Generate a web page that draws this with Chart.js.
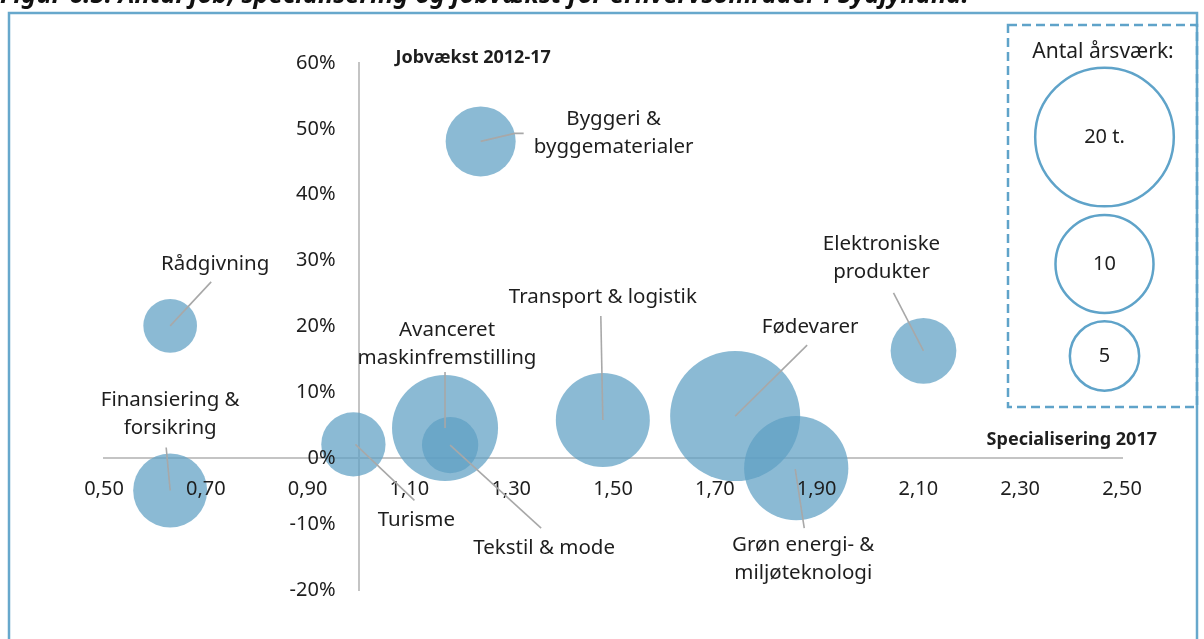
<!DOCTYPE html>
<html lang="da">
<head>
<meta charset="utf-8">
<title>Antal job, specialisering og jobvækst</title>
<script src="https://cdn.jsdelivr.net/npm/chart.js@4"></script>
<style>
  html, body { margin: 0; padding: 0; background: #fff; }
  #wrap { position: relative; width: 1204px; height: 639px; overflow: hidden; }
</style>
</head>
<body>
<div id="wrap"><canvas id="chart"></canvas></div>
<script>
// Erhvervsområder
const omraader = [
	["Rådgivning"],
	["Finansiering &", "forsikring"],
	["Byggeri &", "byggematerialer"],
	["Turisme"],
	["Avanceret", "maskinfremstilling"],
	["Tekstil & mode"],
	["Transport & logistik"],
	["Fødevarer"],
	["Grøn energi- &", "miljøteknologi"],
	["Elektroniske", "produkter"]
];
// Specialisering 2017 (x)
const specialisering = [0.63, 0.63, 1.24, 0.99, 1.17, 1.18, 1.48, 1.74, 1.86, 2.11];
// Jobvækst 2012-17, procent (y)
const jobvaekst = [20.1, -4.9, 48.1, 2.1, 4.6, 2.0, 5.8, 6.4, -1.5, 16.3];
// Antal årsværk, tusinde (bobbelstørrelse)
const aarsvaerk = [3.0, 5.7, 5.1, 4.3, 11.7, 3.3, 9.2, 17.6, 11.3, 4.5];

const xTicks = [0.5, 0.7, 0.9, 1.1, 1.3, 1.5, 1.7, 1.9, 2.1, 2.3, 2.5];
const yTicks = [-20, -10, 0, 10, 20, 30, 40, 50, 60];
const legendValues = [20, 10, 5];
const legendLabels = ["20 t.", "10", "5"];

// label placement, pixel offsets from bubble centre: text block centre + leader line
const labelLayout = [
	{ dx: 45, dy: -62, line: [[0, 0], [41, -44]] },
	{ dx: 0, dy: -76, line: [[-4, -43], [0, 0]] },
	{ dx: 133, dy: -8, line: [[0, 0], [34, -8], [43, -8]] },
	{ dx: 63, dy: 76, line: [[2, 0], [61, 56]] },
	{ dx: 2, dy: -84, line: [[0, 0], [0, -56]] },
	{ dx: 94, dy: 103, line: [[0, 0], [91, 83]] },
	{ dx: 0, dy: -123, line: [[0, 0], [-2, -104]] },
	{ dx: 75, dy: -89, line: [[0, 0], [72, -71]] },
	{ dx: 7, dy: 91, line: [[-1, 1], [8, 60]] },
	{ dx: -42, dy: -93, line: [[-30, -58], [0, 0]] }
];

const FONT = '"Noto Sans", "Open Sans", sans-serif';
const TEXT = "#1e1e1e";

function radiusFor(v) {
	return 15.5 * Math.sqrt(v);
}

function fmtX(v) {
	return v.toFixed(2).replace(".", ",");
}

const points = specialisering.map((x, i) => ({ x: x, y: jobvaekst[i], r: radiusFor(aarsvaerk[i]) }));

const extras = {
	id: "extras",
	beforeDraw(chart) {
		const ctx = chart.ctx;
		ctx.save();
		// cut-off figure title
		ctx.fillStyle = "#111";
		ctx.font = "italic bold 25.5px " + FONT;
		ctx.textBaseline = "alphabetic";
		ctx.fillText("Figur 6.5: Antal job, specialisering og jobvækst for erhvervsområder i Sydjylland.", 0, 3);
		// frame
		ctx.strokeStyle = "#67a8cc";
		ctx.lineWidth = 2.5;
		ctx.strokeRect(9, 13, 1188, 700);
		ctx.restore();
	},
	afterDatasetsDraw(chart) {
		const ctx = chart.ctx;
		const xs = chart.scales.x;
		const ys = chart.scales.y;
		const axisX = xs.getPixelForValue(1);
		const axisY = ys.getPixelForValue(0);
		ctx.save();

		// tick labels next to the crossing axes
		ctx.fillStyle = TEXT;
		ctx.font = "20px " + FONT;
		ctx.textBaseline = "middle";
		ctx.textAlign = "right";
		yTicks.forEach((v) => {
			ctx.fillText(v + "%", axisX - 23, ys.getPixelForValue(v));
		});
		ctx.textAlign = "center";
		xTicks.forEach((v) => {
			ctx.fillText(fmtX(v), xs.getPixelForValue(v), axisY + 31);
		});

		// leader lines
		ctx.strokeStyle = "#a8a8a8";
		ctx.lineWidth = 1.6;
		points.forEach((p, i) => {
			const cx = xs.getPixelForValue(p.x);
			const cy = ys.getPixelForValue(p.y);
			const l = labelLayout[i].line;
			ctx.beginPath();
			ctx.moveTo(cx + l[0][0], cy + l[0][1]);
			for (let k = 1; k < l.length; k++) ctx.lineTo(cx + l[k][0], cy + l[k][1]);
			ctx.stroke();
		});

		// labels
		ctx.font = "20.5px " + FONT;
		ctx.textAlign = "center";
		const lh = 28;
		points.forEach((p, i) => {
			const cx = xs.getPixelForValue(p.x) + labelLayout[i].dx;
			const cy = ys.getPixelForValue(p.y) + labelLayout[i].dy;
			const lines = omraader[i];
			lines.forEach((t, k) => {
				ctx.fillText(t, cx, cy + (k - (lines.length - 1) / 2) * lh);
			});
		});

		// axis titles
		ctx.font = "bold 18px " + FONT;
		ctx.textAlign = "left";
		ctx.fillText("Jobvækst 2012-17", axisX + 37, chart.chartArea.top - 5);
		ctx.textAlign = "right";
		ctx.fillText("Specialisering 2017", chart.chartArea.right + 35, axisY - 18);

		// size legend
		ctx.strokeStyle = "#5fa3c9";
		ctx.lineWidth = 2.5;
		ctx.setLineDash([9, 5]);
		ctx.strokeRect(1008, 25, 189, 382);
		ctx.setLineDash([]);
		ctx.textAlign = "center";
		ctx.font = "21px " + FONT;
		ctx.fillText("Antal årsværk:", 1103, 52);
		ctx.font = "20px " + FONT;
		const legendY = [137, 264, 356];
		legendValues.forEach((v, i) => {
			ctx.beginPath();
			ctx.arc(1104.5, legendY[i], radiusFor(v), 0, Math.PI * 2);
			ctx.stroke();
			ctx.fillText(legendLabels[i], 1104.5, legendY[i]);
		});
		ctx.restore();
	}
};

new Chart(document.getElementById("chart"), {
	type: "bubble",
	data: {
		datasets: [
			{
				label: "Erhvervsområder",
				data: points,
				backgroundColor: "rgba(94, 160, 196, 0.72)",
				borderWidth: 0,
				hoverBorderWidth: 0
			}
		]
	},
	options: {
		responsive: true,
		maintainAspectRatio: false,
		animation: false,
		layout: {
			autoPadding: false,
			padding: { left: 104, right: 82, top: 63, bottom: 49 }
		},
		scales: {
			x: {
				type: "linear",
				min: 0.5,
				max: 2.5,
				position: { y: 0 },
				afterBuildTicks: (scale) => {
					scale.ticks = xTicks.map((v) => ({ value: v }));
				},
				grid: { display: false, drawTicks: false },
				border: { display: true, color: "#c4c4c4", width: 2 },
				ticks: { display: false }
			},
			y: {
				type: "linear",
				min: -20,
				max: 60,
				position: { x: 1 },
				afterBuildTicks: (scale) => {
					scale.ticks = yTicks.map((v) => ({ value: v }));
				},
				grid: { display: false, drawTicks: false },
				border: { display: true, color: "#c4c4c4", width: 2 },
				ticks: { display: false }
			}
		},
		plugins: {
			legend: { display: false },
			tooltip: { enabled: false }
		}
	},
	plugins: [extras]
});
</script>
</body>
</html>
